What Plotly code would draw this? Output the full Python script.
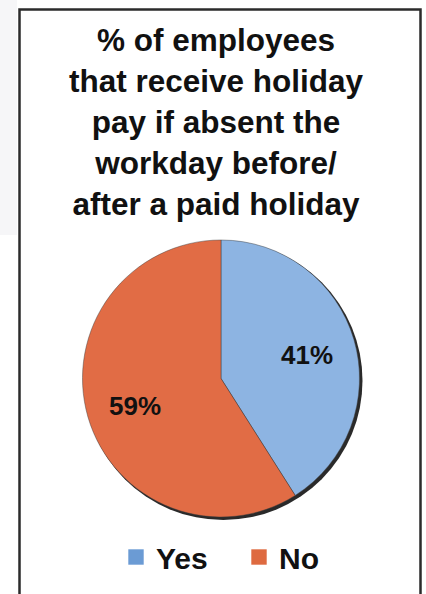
import math
import plotly.graph_objects as go

# Survey answer split
answers = ["Yes", "No"]
shares = [41, 59]
slice_colors = ["#8db4e2", "#e16c45"]
key_colors = ["#6b9bd4", "#de6a40"]

title_lines = [
    "% of employees",
    "that receive holiday",
    "pay if absent the",
    "workday before/",
    "after a paid holiday",
]

FONT = "Arial, 'Liberation Sans', sans-serif"
W, H = 426, 594

# Pie placement in pixels (left, right, top, bottom)
pie_l, pie_r, pie_t, pie_b = 81, 361, 240, 517
dom_x = [pie_l / W, pie_r / W]
dom_y = [1 - pie_b / H, 1 - pie_t / H]

fig = go.Figure()

fig.add_trace(go.Pie(
    labels=answers,
    values=shares,
    sort=False,
    direction="clockwise",
    rotation=0,
    marker=dict(colors=slice_colors, line=dict(color="rgba(60,60,60,0.45)", width=1)),
    textinfo="none",
    domain=dict(x=dom_x, y=dom_y),
    hoverinfo="label+percent",
    showlegend=False,
))

# Legend keys as square markers
for name, col in zip(answers, key_colors):
    fig.add_trace(go.Scatter(
        x=[None], y=[None], mode="markers", name=name,
        marker=dict(symbol="square", size=18, color=col,
                    line=dict(color="rgba(255,255,255,0.6)", width=1)),
        hoverinfo="skip",
    ))

# Percent labels placed on each slice's bisector
cx = (pie_l + pie_r) / 2
cy = (pie_t + pie_b) / 2
radius = min(pie_r - pie_l, pie_b - pie_t) / 2
total = sum(shares)
start = 0.0
for val in shares:
    mid = (start + val / 2) / total * 2 * math.pi
    start += val
    px = cx + 0.65 * radius * math.sin(mid)
    py = cy - 0.65 * radius * math.cos(mid) + 2
    fig.add_annotation(
        text=f"{round(100 * val / total)}%",
        xref="paper", yref="paper", x=px / W, y=1 - py / H,
        xanchor="center", yanchor="middle", showarrow=False,
        font=dict(family=FONT, size=26, color="#111111", weight="bold"),
    )

fig.add_annotation(
    text="<br>".join(title_lines),
    xref="paper", yref="paper",
    x=0.508, y=1 - 122 / H,
    xanchor="center", yanchor="middle",
    showarrow=False,
    font=dict(family=FONT, size=31.5, color="#111111", weight="bold"),
)

# Outer frame and faint backing strip on the left
fig.add_shape(type="rect", xref="paper", yref="paper",
              x0=0, x1=17 / W, y0=1 - 235 / H, y1=1,
              line=dict(width=0), fillcolor="#f6f6f8", layer="below")
fig.add_shape(type="rect", xref="paper", yref="paper",
              x0=19.5 / W, x1=420.5 / W, y0=-0.05, y1=1 - 9.5 / H,
              line=dict(color="#2b2b2b", width=2.5), fillcolor="white", layer="below")

# Soft shadow behind the pie (drawn after the frame so it stays visible)
fig.add_shape(type="circle", xref="paper", yref="paper",
              x0=(cx - radius + 1.5) / W, x1=(cx + radius + 3) / W,
              y0=1 - (cy + radius + 3) / H, y1=1 - (cy - radius + 1.5) / H,
              line=dict(width=0), fillcolor="#2a2a2a", layer="below")

fig.update_layout(
    width=W, height=H,
    margin=dict(l=0, r=0, t=0, b=0, autoexpand=False),
    paper_bgcolor="white",
    plot_bgcolor="rgba(0,0,0,0)",
    xaxis=dict(visible=False, range=[0, 1]),
    yaxis=dict(visible=False, range=[0, 1]),
    showlegend=True,
    legend=dict(
        orientation="h",
        xref="container", yref="container",
        x=116 / W, y=1 - 557 / H,
        xanchor="left", yanchor="middle",
        font=dict(family=FONT, size=30, color="#111111", weight="bold"),
        entrywidth=78, entrywidthmode="pixels",
        bgcolor="rgba(0,0,0,0)",
        itemclick=False, itemdoubleclick=False,
    ),
)

fig.write_html("out.html")
